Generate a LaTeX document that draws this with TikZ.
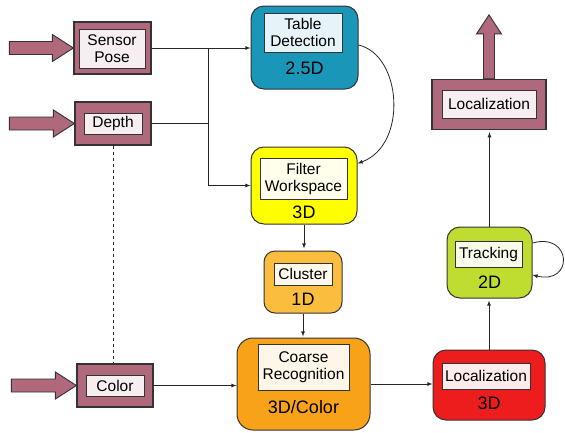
\documentclass[tikz,border=0pt]{standalone}
\usepackage{fontspec}
\setmainfont{Liberation Sans}
\usetikzlibrary{arrows,calc}
\definecolor{mauve}{HTML}{B0687C}
\definecolor{mauvelt}{HTML}{F6EEF1}
\definecolor{teal}{HTML}{1A96B9}
\definecolor{teallt}{HTML}{E6F3F8}
\definecolor{yel}{HTML}{FFFF00}
\definecolor{yellt}{HTML}{FFFFEC}
\definecolor{clus}{HTML}{FBBD3E}
\definecolor{cluslt}{HTML}{FFF8EC}
\definecolor{coarse}{HTML}{F8A21A}
\definecolor{coarselt}{HTML}{FFF6EA}
\definecolor{redbox}{HTML}{EE1D1D}
\definecolor{redlt}{HTML}{FDEBEB}
\definecolor{grn}{HTML}{BFDD30}
\definecolor{grnlt}{HTML}{F8FBEA}
\definecolor{edge}{HTML}{333333}
% fat input arrow into the west side of a node
\newcommand{\fatin}[2]{%
\fill[fat] ($(#1.west)+(-#2,-6.5)$) -- ($(#1.west)+(-21,-6.5)$) -- ($(#1.west)+(-21,-13.5)$) -- (#1.west)
 -- ($(#1.west)+(-21,13.5)$) -- ($(#1.west)+(-21,6.5)$) -- ($(#1.west)+(-#2,6.5)$) -- cycle;}
\begin{document}
\begin{tikzpicture}[x=1pt,y=-1pt,
 inbox/.style={draw=edge, line width=1.2pt, fill=mauve, inner sep=0pt},
 stage/.style={draw=edge, line width=1pt, rounded corners=13pt, inner sep=0pt},
 lbl/.style={draw=edge, line width=0.8pt, inner sep=0pt, align=center, font=\fontsize{15.5}{17}\selectfont},
 dim/.style={inner sep=0pt, font=\fontsize{18}{20}\selectfont},
 conn/.style={draw=black!85, line width=0.8pt},
 fat/.style={draw=edge, line width=0.9pt, fill=mauve}]
\useasboundingbox (0,0) rectangle (565,432);
% inputs
\node[inbox, minimum width=77pt, minimum height=52pt] (pose) at (112.5,48) {};
\node[lbl, fill=mauvelt, minimum width=66pt, minimum height=39pt] (poselbl) at ([shift={(-0.5,0.5)}]pose) {Sensor\\Pose};
\node[inbox, minimum width=76pt, minimum height=43pt] (depth) at (113,123.5) {};
\node[lbl, fill=mauvelt, minimum width=58pt, minimum height=21pt] (depthlbl) at (depth) {Depth};
\node[inbox, minimum width=76pt, minimum height=43pt] (color) at (115,385.5) {};
\node[lbl, fill=mauvelt, minimum width=58pt, minimum height=21pt] (colorlbl) at (color) {Color};
\fatin{pose}{64}
\fatin{depth}{65}
\fatin{color}{65}
% stages
\node[stage, fill=teal, minimum width=107pt, minimum height=83pt] (table) at (304.5,47.5) {};
\node[lbl, fill=teallt, minimum width=78pt, minimum height=39pt] (tablelbl) at ([shift={(-1.5,-15)}]table) {Table\\Detection};
\node[dim] (tabledim) at ([shift={(0,20.5)}]table) {2.5D};
\node[stage, fill=yel, minimum width=106pt, minimum height=77pt] (filter) at (304,185.5) {};
\node[lbl, fill=yellt, minimum width=87pt, minimum height=41pt] (filterlbl) at ([shift={(-0.5,-7)}]filter) {Filter\\Workspace};
\node[dim] (filterdim) at ([shift={(0,26.5)}]filter) {3D};
\node[stage, fill=clus, rounded corners=11pt, minimum width=78pt, minimum height=62pt] (cluster) at (303,282) {};
\node[lbl, fill=cluslt, minimum width=58pt, minimum height=22pt] (clusterlbl) at ([shift={(0,-8)}]cluster) {Cluster};
\node[dim] (clusterdim) at ([shift={(0,17)}]cluster) {1D};
\node[stage, fill=coarse, rounded corners=16pt, minimum width=133pt, minimum height=92pt] (coarse) at (303.5,384) {};
\node[lbl, fill=coarselt, minimum width=91pt, minimum height=46pt] (coarselbl) at ([shift={(0,-17)}]coarse) {Coarse\\Recognition};
\node[dim] (coarsedim) at ([shift={(0,23)}]coarse) {3D/Color};
\node[stage, fill=redbox, minimum width=112pt, minimum height=70pt] (loc3d) at (489,385) {};
\node[lbl, fill=redlt, minimum width=88pt, minimum height=26pt] (loc3dlbl) at ([shift={(-3,-9)}]loc3d) {Localization};
\node[dim] (loc3ddim) at ([shift={(0,18)}]loc3d) {3D};
\node[stage, fill=grn, minimum width=85pt, minimum height=71pt] (track) at (489.5,262.5) {};
\node[lbl, fill=grnlt, minimum width=67pt, minimum height=26pt] (tracklbl) at ([shift={(-1,-8.5)}]track) {Tracking};
\node[dim] (trackdim) at ([shift={(0,19.5)}]track) {2D};
% output
\node[inbox, minimum width=114pt, minimum height=50pt] (locout) at (489,104.5) {};
\node[lbl, fill=mauvelt, minimum width=94pt, minimum height=28pt] (locoutlbl) at ([shift={(0,-0.5)}]locout) {Localization};
\fill[fat] ([xshift=-5.5pt]locout.north) -- ($(locout.north)+(-5.5,-45)$) -- ($(locout.north)+(-12.5,-45)$)
 -- ($(locout.north)+(0,-64)$) -- ($(locout.north)+(12.5,-45)$) -- ($(locout.north)+(5.5,-45)$) -- ([xshift=5.5pt]locout.north) -- cycle;
% connectors
\coordinate (split) at (208,48);
\draw[conn,-latex] (pose.east) -- (pose.east -| table.west);
\draw[conn] (depth.east) -- (depth.east -| split);
\draw[conn,-latex] (split) |- (filter.west);
\draw[conn,-latex] ([yshift=2.5pt]table.east) .. controls (402,55) and (408,145) .. ([yshift=22pt]filter.east);
\draw[conn,-latex,shorten >=2pt] (filter.south) -- (filter.south |- cluster.north);
\draw[conn,-latex,shorten >=1pt] (cluster.south) -- (cluster.south |- coarse.north);
\draw[conn,-latex] (color.east) -- (color.east -| coarse.west);
\draw[conn,-latex] (coarse.east) -- (coarse.east -| loc3d.west);
\draw[conn,-latex,shorten >=2pt] (loc3d.north) -- (loc3d.north |- track.south);
\draw[conn,-latex] ([yshift=19.5pt]track.east) .. controls (572,232) and (574,285) .. ([yshift=-12.5pt]track.east);
\draw[conn,-latex,shorten >=2pt] (track.north) -- (track.north |- locout.south);
\draw[conn,dashed] (depth.south) -- (depth.south |- color.north);
\end{tikzpicture}
\end{document}
